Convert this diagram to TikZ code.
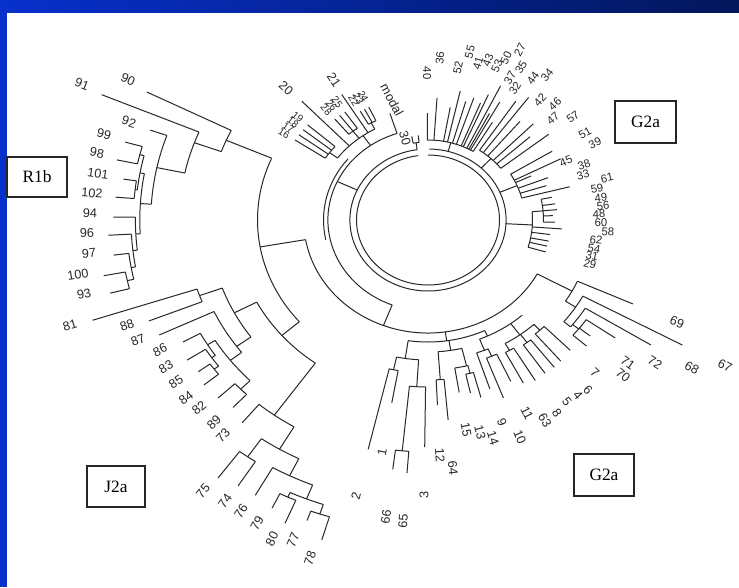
\documentclass[tikz,border=0pt]{standalone}
\usepackage{fontspec}
\setmainfont{Liberation Serif}
\newfontfamily\labf{Liberation Sans}
\definecolor{bandL}{RGB}{8,48,205}
\definecolor{bandR}{RGB}{2,22,90}
\definecolor{ink}{RGB}{40,40,40}
\tikzset{
  P/.style={shift={(428,220)},xscale=1.1,yscale=-1},
  br/.style={draw=ink,line width=0.75pt},
  lab/.style={font=\labf\fontsize{9.5}{9.5}\selectfont,inner sep=0pt,text=ink},
  upl/.style={font=\labf\fontsize{8.5}{8.5}\selectfont,inner sep=0pt,text=ink},
  sml/.style={font=\labf\fontsize{7.5}{7.5}\selectfont,inner sep=0pt,text=ink},
  grp/.style={draw=black!85,line width=0.9pt,font=\fontsize{13}{13}\selectfont,inner sep=0pt}
}
% radial line: angle, r1, r2
\newcommand\brad[3]{\draw[P,br] (#1:#2) -- (#1:#3);}
% arc: r, angle1, angle2
\newcommand\barc[3]{\draw[P,br] (#2:#1) arc[start angle=#2,end angle=#3,radius=#1];}
% label at pixel position, radially rotated
\newcommand\blab[5][lab]{%
  \pgfmathsetmacro\lfpa{atan2(220-#4,#3-428)}%
  \pgfmathsetmacro\lfrot{\lfpa>90 ? \lfpa-180 : (\lfpa<-90 ? \lfpa+180 : \lfpa)}%
  \node[#1,rotate=\lfrot] (#2) at (#3,#4) {#5};}
% label at polar position
\newcommand\plab[5][lab]{%
  \pgfmathsetmacro\lfx{428+1.1*#4*cos(#3)}%
  \pgfmathsetmacro\lfy{220-#4*sin(#3)}%
  \blab[#1]{#2}{\lfx}{\lfy}{#5}}
% leaf + label: name, x, y, text, base radius, offset of tip from label
\newcommand\lf[7][lab]{%
  \pgfmathsetmacro\lfth{atan2(220-#4,(#3-428)/1.1)}%
  \pgfmathsetmacro\lfrl{veclen((#3-428)/1.1,220-#4)-#7}%
  \draw[P,br] (\lfth:#6) -- (\lfth:\lfrl);
  \blab[#1]{#2}{#3}{#4}{#5}}
\begin{document}
\begin{tikzpicture}[x=0.75pt,y=-0.75pt]
\useasboundingbox (0,0) rectangle (739,587);
\fill[white] (0,0) rectangle (739,587);
\shade[left color=bandL,right color=bandR] (0,0) rectangle (739,12);
\fill[bandL] (0,0) rectangle (7,587);

% ---- central rings
\barc{65}{90}{-262}
\barc{71}{89}{-262}
% leaf 30
\brad{98}{71}{78}\barc{78}{96}{100}\brad{96}{78}{85}\brad{100}{78}{85}
\blab{l30}{405}{138}{30}
% node A
\brad{155}{71}{91}
\barc{91}{108}{249}
\barc{95}{140}{192}
\brad{108}{91}{112}
\node[lab,font=\labf\fontsize{9.5}{9.5}\selectfont,rotate=-62] (lmodal) at (392,100) {modal};
% top-left clade
\brad{125}{91}{103}\barc{103}{118}{143}
\brad{118}{103}{110}\barc{110}{115.5}{119.5}
\brad{115.5}{110}{125}\brad{117.5}{110}{125}\brad{119.5}{110}{125}
\brad{122}{103}{148}
\brad{127.5}{103}{112}\barc{112}{125}{130}
\brad{125}{112}{132}\brad{127.5}{112}{132}\brad{130}{112}{132}
\brad{134}{103}{165}
\brad{143}{103}{112}\barc{112}{139}{146.5}
\brad{139}{112}{145}\brad{141.5}{112}{145}\brad{144}{112}{145}\brad{146.5}{112}{145}
\plab[sml]{l24}{115.5}{137}{24}\plab[sml]{l23}{117.5}{137}{23}\plab[sml]{l22}{119.5}{137}{22}
\plab[sml]{l25}{125}{144}{25}\plab[sml]{l26}{127.5}{144}{26}\plab[sml]{l28}{130}{144}{28}
\plab[sml]{l19}{139}{157}{19}\plab[sml]{l18}{141.5}{157}{18}\plab[sml]{l17}{144}{157}{17}\plab[sml]{l16}{146.5}{157}{16}
\blab{l21}{334}{80}{21}
\blab{l20}{286}{88}{20}

% ---- node B and big left arc
\brad{249}{91}{113}
\barc{113}{190}{331.5}
\brad{190}{113}{155}
\barc{155}{156.5}{221}

% ---- R1b
\brad{156.5}{155}{200}\barc{200}{153.4}{160}
\brad{153.4}{200}{286}
\brad{160}{200}{226}\barc{226}{157.1}{168}
\brad{157.1}{226}{322}
\brad{168}{226}{252}\barc{252}{160.4}{176.4}
\brad{160.4}{252}{268}
\brad{176.4}{252}{262}\barc{262}{169.8}{183}
\brad{169.8}{262}{266}\barc{266}{166}{173.5}
\brad{166}{266}{270}\barc{270}{164.2}{168}\brad{164.2}{270}{286}\brad{168}{270}{289}
\brad{173.5}{266}{268}\barc{268}{171.6}{175.4}\brad{171.6}{268}{280}\brad{175.4}{268}{285}
\brad{183}{262}{266}\barc{266}{179.4}{186.5}\brad{179.4}{266}{286}
\brad{186.5}{266}{270}\barc{270}{183}{190}\brad{183}{270}{291}
\brad{190}{270}{274}\barc{274}{187}{192.5}\brad{187}{274}{288}
\brad{192.5}{274}{280}\barc{280}{190.7}{194.2}\brad{190.7}{280}{300}\brad{194.2}{280}{298}
\blab{l91}{82}{84}{91}\blab{l90}{128}{80}{90}\blab{l92}{129}{122}{92}
\blab{l99}{104}{134}{99}\blab{l98}{97}{153}{98}\blab{l101}{98}{174}{101}
\blab{l102}{92}{193}{102}\blab{l94}{90}{213}{94}\blab{l96}{87}{233}{96}
\blab{l97}{89}{253}{97}\blab{l100}{78}{275}{100}\blab{l93}{84}{294}{93}

% ---- J2a
\brad{221}{155}{176}\barc{176}{207.8}{234.4}
\brad{207.8}{176}{199}\barc{199}{200}{216}
\brad{200}{199}{221}\barc{221}{198.2}{201.7}
\brad{198.2}{221}{321}\brad{201.7}{221}{273}
\brad{216}{199}{215}\barc{215}{205.2}{218}
\brad{205.2}{215}{270}
\brad{218}{215}{228}\barc{228}{211.9}{224.8}
\brad{211.9}{228}{236}\barc{236}{208.7}{215}\brad{208.7}{236}{254}
\brad{215}{236}{240}\barc{240}{212.6}{217.5}\brad{212.6}{240}{260}
\brad{217.5}{240}{245}\barc{245}{216}{219}\brad{216}{245}{258}\brad{219}{245}{262}
\brad{224.8}{228}{240}\barc{240}{223}{226.6}\brad{223}{240}{261}\brad{226.6}{240}{258}
\brad{234.4}{176}{240}\barc{240}{230.2}{239.5}\brad{230.2}{240}{264}
\brad{239.5}{240}{266}\barc{266}{235.3}{243.8}
\brad{235.3}{266}{288}\barc{288}{233.5}{237}\brad{233.5}{288}{321}\brad{237}{288}{317}
\brad{243.8}{266}{285}\barc{285}{240.3}{248.4}\brad{240.3}{285}{317}
\brad{248.4}{285}{300}\barc{300}{245.3}{251.5}
\brad{245.3}{300}{305}\barc{305}{243.8}{246.8}\brad{243.8}{305}{321}\brad{246.8}{305}{330}
\brad{251.5}{300}{310}\barc{310}{249.9}{253.2}\brad{249.9}{310}{320}\brad{253.2}{310}{334}
\blab{l81}{70}{325}{81}\blab{l88}{127}{325}{88}\blab{l87}{138}{340}{87}
\blab{l86}{160}{350}{86}\blab{l83}{166}{367}{83}\blab{l85}{176}{382}{85}
\blab{l84}{186}{398}{84}\blab{l82}{199}{408}{82}\blab{l89}{214}{422}{89}
\blab{l73}{223}{435}{73}\blab{l75}{203}{491}{75}\blab{l74}{225}{501}{74}
\blab{l76}{241}{511}{76}\blab{l79}{257}{523}{79}\blab{l80}{272}{539}{80}
\blab{l77}{293}{540}{77}\blab{l78}{310}{558}{78}

% ---- lower G2a
\brad{278}{113}{122}\barc{122}{261.5}{295}
\barc{128}{291.5}{312}
\brad{261.5}{122}{140}\barc{140}{258.2}{266.5}
\brad{258.2}{140}{153}\barc{153}{256.66}{259.8}
\brad{266.5}{140}{167}\barc{167}{264.2}{269.24}
\brad{264.2}{167}{232}\barc{232}{262.67}{265.69}
\brad{279}{122}{132}\barc{132}{274}{283.5}
\brad{274}{132}{160}\barc{160}{272.66}{275.24}
\brad{283.5}{132}{150}\barc{150}{279.33}{284}
\brad{284}{150}{158}\barc{158}{282.57}{285.17}
\brad{295}{122}{128}
\brad{291.5}{128}{140}\barc{140}{288.42}{293}
\brad{293}{140}{148}\barc{148}{291.08}{295}
\brad{306}{128}{142}\barc{142}{299.6}{312.7}
\brad{299.6}{142}{150}\barc{150}{298}{301.28}
\brad{306.3}{142}{152}\barc{152}{304.78}{307.93}
\brad{312.7}{142}{150}\barc{150}{310.55}{314.78}
\lf{l2}{356}{496}{2}{153}{48}
\lf{l1}{382}{452}{1}{153}{50}
\lf{l66}{386}{517}{66}{232}{48}
\lf{l65}{403}{521}{65}{232}{48}
\lf{l3}{424}{495}{3}{167}{48}
\lf{l12}{440}{455}{12}{160}{50}
\lf{l64}{453}{468}{64}{160}{48}
\lf{l15}{466}{430}{15}{150}{38}
\lf{l13}{480}{432}{13}{158}{40}
\lf{l14}{493}{438}{14}{158}{42}
\lf{l9}{502}{422}{9}{140}{35}
\lf{l10}{520}{437}{10}{148}{42}
\lf{l11}{527}{413}{11}{148}{35}
\lf{l63}{545}{420}{63}{150}{42}
\lf{l8}{557}{413}{8}{150}{38}
\lf{l5}{567}{402}{5}{152}{35}
\lf{l4}{578}{395}{4}{152}{35}
\lf{l6}{588}{390}{6}{150}{38}
\lf{l7}{595}{373}{7}{150}{32}
% 67-72 clade
\brad{331.5}{113}{149}\barc{149}{327}{335.75}
\brad{327}{149}{160}\barc{160}{320.5}{331.6}
\brad{320.5}{160}{168}\barc{168}{320.5}{328.3}
\brad{321.5}{168}{175}\barc{175}{318.83}{325.3}
\lf{l70}{623}{375}{70}{175}{44}
\lf{l71}{628}{363}{71}{175}{44}
\lf{l72}{655}{363}{72}{175}{44}
\lf{l68}{692}{368}{68}{168}{44}
\lf{l67}{725}{366}{67}{160}{44}
\lf{l69}{677}{322}{69}{149}{44}

% ---- upper G2a
\brad{75}{71}{80}\barc{80}{59.07}{90.4}
\brad{47}{71}{84}\barc{84}{38}{56.1}
\brad{23}{71}{88}\barc{88}{14.47}{31.37}
\brad{-3}{71}{95}\barc{95}{-16.63}{5}
\brad{5}{95}{105}\barc{105}{-1.09}{11.4}
\lf[upl]{l40}{427}{73}{40}{80}{40}
\lf[upl]{l36}{440}{58}{36}{80}{40}
\lf[upl]{l52}{458}{68}{52}{80}{40}
\lf[upl]{l55}{470}{52}{55}{80}{40}
\lf[upl]{l41}{478}{63}{41}{80}{40}
\lf[upl]{l43}{488}{60}{43}{80}{40}
\lf[upl]{l53}{497}{66}{53}{80}{40}
\lf[upl]{l50}{506}{58}{50}{80}{40}
\lf[upl]{l27}{520}{50}{27}{80}{40}
\lf[upl]{l37}{510}{78}{37}{80}{40}
\lf[upl]{l35}{521}{67}{35}{80}{40}
\lf[upl]{l32}{515}{88}{32}{80}{40}
\lf[upl]{l44}{533}{78}{44}{84}{28}
\lf[upl]{l34}{547}{75}{34}{84}{28}
\lf[upl]{l42}{540}{100}{42}{84}{28}
\lf[upl]{l46}{555}{104}{46}{84}{28}
\lf[upl]{l47}{553}{118}{47}{84}{28}
\lf[upl]{l57}{573}{117}{57}{84}{28}
\lf[upl]{l51}{585}{133}{51}{88}{35}
\lf[upl]{l39}{595}{143}{39}{88}{35}
\lf[upl]{l45}{566}{161}{45}{88}{35}
\lf[upl]{l38}{584}{165}{38}{88}{35}
\lf[upl]{l33}{583}{175}{33}{88}{35}
\lf[upl]{l61}{607}{178}{61}{88}{35}
\lf[upl]{l59}{597}{189}{59}{105}{42}
\lf[upl]{l49}{601}{198}{49}{105}{42}
\lf[upl]{l56}{603}{206}{56}{105}{42}
\lf[upl]{l48}{599}{214}{48}{105}{42}
\lf[upl]{l60}{601}{223}{60}{105}{42}
\lf[upl]{l58}{608}{232}{58}{95}{42}
\lf[upl]{l62}{596}{240}{62}{95}{42}
\lf[upl]{l54}{594}{249}{54}{95}{42}
\lf[upl]{l31}{592}{256}{31}{95}{42}
\lf[upl]{l29}{590}{264}{29}{95}{42}

% ---- group boxes
\node[grp,minimum width=45pt,minimum height=30pt] (r1b) at (37,177) {R1b};
\node[grp,minimum width=43.5pt,minimum height=30.75pt] (j2a) at (116,486.5) {J2a};
\node[grp,minimum width=45.75pt,minimum height=31.5pt] (g2aup) at (645.5,122) {G2a};
\node[grp,minimum width=45pt,minimum height=31.5pt] (g2alow) at (604,475) {G2a};
\end{tikzpicture}
\end{document}
